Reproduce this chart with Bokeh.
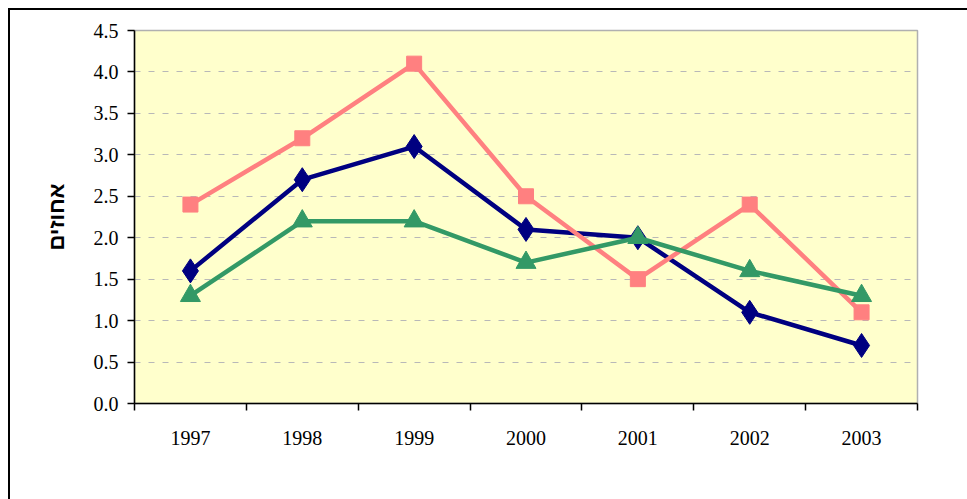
from bokeh.plotting import figure
from bokeh.models import Range1d, FixedTicker, PrintfTickFormatter, Legend, LegendItem
from bokeh.embed import file_html
from bokeh.resources import INLINE

years = [1997, 1998, 1999, 2000, 2001, 2002, 2003]
petah_tikva = [1.6, 2.7, 3.1, 2.1, 2.0, 1.1, 0.7]
raanana = [2.4, 3.2, 4.1, 2.5, 1.5, 2.4, 1.1]
kfar_saba = [1.3, 2.2, 2.2, 1.7, 2.0, 1.6, 1.3]
names = ["פתח תקווה", "רעננה", "כפר סבא"]
y_ticks = [0.0, 0.5, 1.0, 1.5, 2.0, 2.5, 3.0, 3.5, 4.0, 4.5]
y_label = "אחוזים"

p = figure(width=957, height=489, frame_width=783, frame_height=373,
           min_border_left=124, min_border_right=50, min_border_top=20, min_border_bottom=96,
           x_range=Range1d(years[0] - 0.5, years[-1] + 0.5), y_range=Range1d(0, 4.5),
           output_backend="svg", toolbar_location=None)
p.margin = (8, 0, 0, 8)
p.styles = {"border-top": "2px solid black", "border-left": "2px solid black"}
p.background_fill_color = "#FFFFCC"
p.border_fill_color = "white"
p.outline_line_color = "#b0b0b0"
p.outline_line_width = 1.5

p.xgrid.visible = False
p.ygrid.grid_line_color = "#b8b8b8"
p.ygrid.grid_line_dash = "6 8"
p.ygrid.grid_line_width = 1

# x axis
p.xaxis.ticker = FixedTicker(ticks=years, minor_ticks=[y - 0.5 for y in years] + [years[-1] + 0.5])
p.xaxis.major_tick_out = 0
p.xaxis.major_tick_in = 0
p.xaxis.minor_tick_out = 7
p.xaxis.minor_tick_in = 0
p.xaxis.minor_tick_line_color = "black"
p.xaxis.minor_tick_line_width = 1.5
p.xaxis.major_label_standoff = 20
p.xaxis.axis_line_width = 1.5
p.xaxis.axis_line_color = "black"
p.xaxis.major_label_text_font = "Liberation Serif"
p.xaxis.major_label_text_font_size = "20px"
p.xaxis.major_label_text_color = "black"

# y axis
p.yaxis.ticker = FixedTicker(ticks=y_ticks, minor_ticks=[])
p.yaxis.formatter = PrintfTickFormatter(format="%.1f")
p.yaxis.major_tick_out = 7
p.yaxis.major_tick_in = 0
p.yaxis.major_tick_line_width = 1.5
p.yaxis.axis_line_width = 1.5
p.yaxis.axis_line_color = "black"
p.yaxis.major_label_standoff = 9
p.yaxis.major_label_text_font = "Liberation Serif"
p.yaxis.major_label_text_font_size = "20px"
p.yaxis.major_label_text_color = "black"
p.yaxis.axis_label = y_label
p.yaxis.axis_label_text_font = "Liberation Sans"
p.yaxis.axis_label_text_font_style = "bold"
p.yaxis.axis_label_text_font_size = "22px"
p.yaxis.axis_label_text_color = "black"
p.yaxis.axis_label_standoff = 22

colors = ["#000080", "#FF8080", "#339966"]
markers = ["diamond", "square", "triangle"]
sizes = [24, 15, 20]
series = [petah_tikva, raanana, kfar_saba]
items = []
for name, vals, c, m, s in zip(names, series, colors, markers, sizes):
    l = p.line(years, vals, line_color=c, line_width=4.5)
    sc = p.scatter(years, vals, marker=m, size=s, fill_color=c, line_color=c)
    items.append(LegendItem(label=name, renderers=[l, sc]))

legend = Legend(items=items, orientation="horizontal", location="top_left",
                title=" ", title_location="left", title_standoff=86,
                title_text_font_size="2px",
                glyph_width=65, glyph_height=24, label_standoff=6, spacing=63,
                padding=0, margin=0, border_line_color=None,
                background_fill_alpha=0,
                label_text_font="Liberation Sans", label_text_font_style="bold",
                label_text_font_size="25px", label_text_color="black")
p.add_layout(legend, "below")

open("out.html", "w").write(file_html(p, INLINE))
